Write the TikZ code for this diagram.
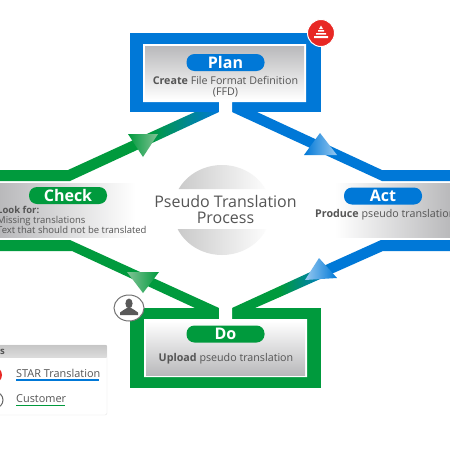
\documentclass[tikz,border=0pt]{standalone}
\usepackage{fontspec}
\setmainfont{Open Sans}
\definecolor{bluemain}{RGB}{0,120,215}
\definecolor{greenmain}{RGB}{0,154,61}
\definecolor{tx}{RGB}{85,85,85}
\definecolor{lb}{RGB}{150,200,240}
\definecolor{lg}{RGB}{130,195,150}
\definecolor{sh}{RGB}{185,185,187}
\definecolor{badge}{RGB}{232,40,36}
\tikzset{
 x=1pt,y=-1pt,
 pill/.style={rounded corners=8pt,minimum width=78pt,minimum height=17pt,inner sep=0pt,text=white,font=\fontsize{16}{16}\selectfont\bfseries},
 body/.style={text=tx,font=\fontsize{10.7}{11.5}\selectfont,inner sep=0pt,align=center},
 big/.style={text=tx,font=\fontsize{16}{16}\selectfont,inner sep=0pt,align=center},
 leg/.style={text=tx,font=\fontsize{10.9}{12}\selectfont,inner sep=0pt,anchor=west}
}
\begin{document}
\begin{tikzpicture}
\path[use as bounding box] (0,0) rectangle (450,450);
\clip (0,0) rectangle (450,450);
\fill[white] (0,0) rectangle (450,450);
% centre disc
\begin{scope}
\clip (160,160) rectangle (290,189) (160,229) rectangle (290,260);
\path[left color=black!22,right color=white] (222,210) ellipse [x radius=49,y radius=45];
\end{scope}
\node[big] (title) at (225.5,209) {Pseudo Translation\\Process};
% bands
\fill[greenmain] (0,170)--(68,170)--(150,132.5)--(150,144)--(70,181)--(0,181)--cycle;
\path[left color=greenmain,right color=bluemain] (150,132.5)--(195,112)--(219,112)--(150,144)--cycle;
\fill[bluemain] (232,112)--(257,112)--(382,170)--(450,170)--(450,181)--(382,181)--cycle;
\fill[greenmain] (0,240)--(70,240)--(219,308)--(195,308)--(72,251)--(0,251)--cycle;
\fill[bluemain] (450,240)--(381,240)--(330,263)--(330,274.6)--(383,251)--(450,251)--cycle;
\path[left color=greenmain,right color=bluemain] (280,286)--(330,263)--(330,274.6)--(280,297)--cycle;
\fill[greenmain] (232,308)--(280,286)--(280,297)--(255,308)--cycle;
% arrowheads
\path[left color=greenmain,right color=lg] (128,134)--(158,134)--(143,157)--cycle;
\path[left color=bluemain,right color=lb] (320,133)--(337,155)--(304,155)--cycle;
\path[left color=lg,right color=greenmain] (127,272)--(159,272)--(143,293)--cycle;
\path[left color=lb,right color=bluemain] (305,280)--(319,258)--(337,278)--cycle;
% plan
\fill[bluemain] (130,33) rectangle (321,112);
\fill[white] (143,44) rectangle (306,102) (219,100) rectangle (232,113);
\path[top color=sh,bottom color=white] (145,46) rectangle (304,100);
\node[pill,fill=bluemain] (plan) at (225.5,62.5) {Plan};
\node[body] (plant) at (225.5,87) {\textbf{Create} File Format Definition\\(FFD)};
% do
\fill[greenmain] (130,308) rectangle (321,388);
\fill[white] (144,319) rectangle (307,377) (219,307) rectangle (232,320);
\path[top color=white,bottom color=sh] (146,321) rectangle (305,375);
\node[pill,fill=greenmain] (do) at (225.5,334) {Do};
\node[body] (dot) at (226,358.5) {\textbf{Upload} pseudo translation};
% check
\path[left color=sh,right color=white] (0,183) rectangle (135,237);
\node[pill,fill=greenmain] (check) at (68,195.5) {Check};
\node[text=tx,font=\fontsize{9.5}{9.8}\selectfont,inner sep=0pt,align=left,anchor=north west] (checkt) at (-3,206.5) {\textbf{Look for:}\\Missing translations\\Text that should not be translated};
% act
\path[left color=white,right color=sh] (335,183) rectangle (450,237);
\node[pill,fill=bluemain] (act) at (383,196) {Act};
\node[body,anchor=west] (actt) at (315,215) {\textbf{Produce} pseudo translation};
% badges
\fill[badge,draw=white,line width=1pt] (321,33) circle (13.5);
\fill[white] (321,25.5)--(323,29)--(319,29)--cycle;
\fill[white] (318,30) rectangle (324,31.7) (316,33) rectangle (326,34.7) (314,36) rectangle (328,38);
\fill[white,draw=black!55,line width=1pt] (129,308) ellipse [x radius=15,y radius=13];
\fill[black!65] (129,303.5) ellipse [x radius=3.6,y radius=5];
\fill[black!65] (120,315)--(120,312.5)..controls (122,310) and (125,310) .. (127,308)--(131,308)..controls (133,310) and (136,310) .. (138,312.5)--(138,315)--cycle;
% legend
\fill[white,draw=black!10,rounded corners=2pt] (-5,345) rectangle (107,415);
\path[top color=black!22,bottom color=black!14] (-5,345.5) rectangle (106.5,357);
\node[text=tx,font=\fontsize{9.5}{9.5}\selectfont\bfseries,inner sep=0pt,anchor=east] (legt) at (5,351) {Roles};
\fill[badge] (-6,375) circle (8);
\draw[black!60,line width=1pt] (-5,400) circle (8);
\node[leg] (star) at (16,373.5) {STAR Translation};
\node[leg] (cust) at (16,398.5) {Customer};
\fill[bluemain] (16,379) rectangle (99,380.5);
\fill[greenmain] (16,404.5) rectangle (65,406);
\end{tikzpicture}
\end{document}
